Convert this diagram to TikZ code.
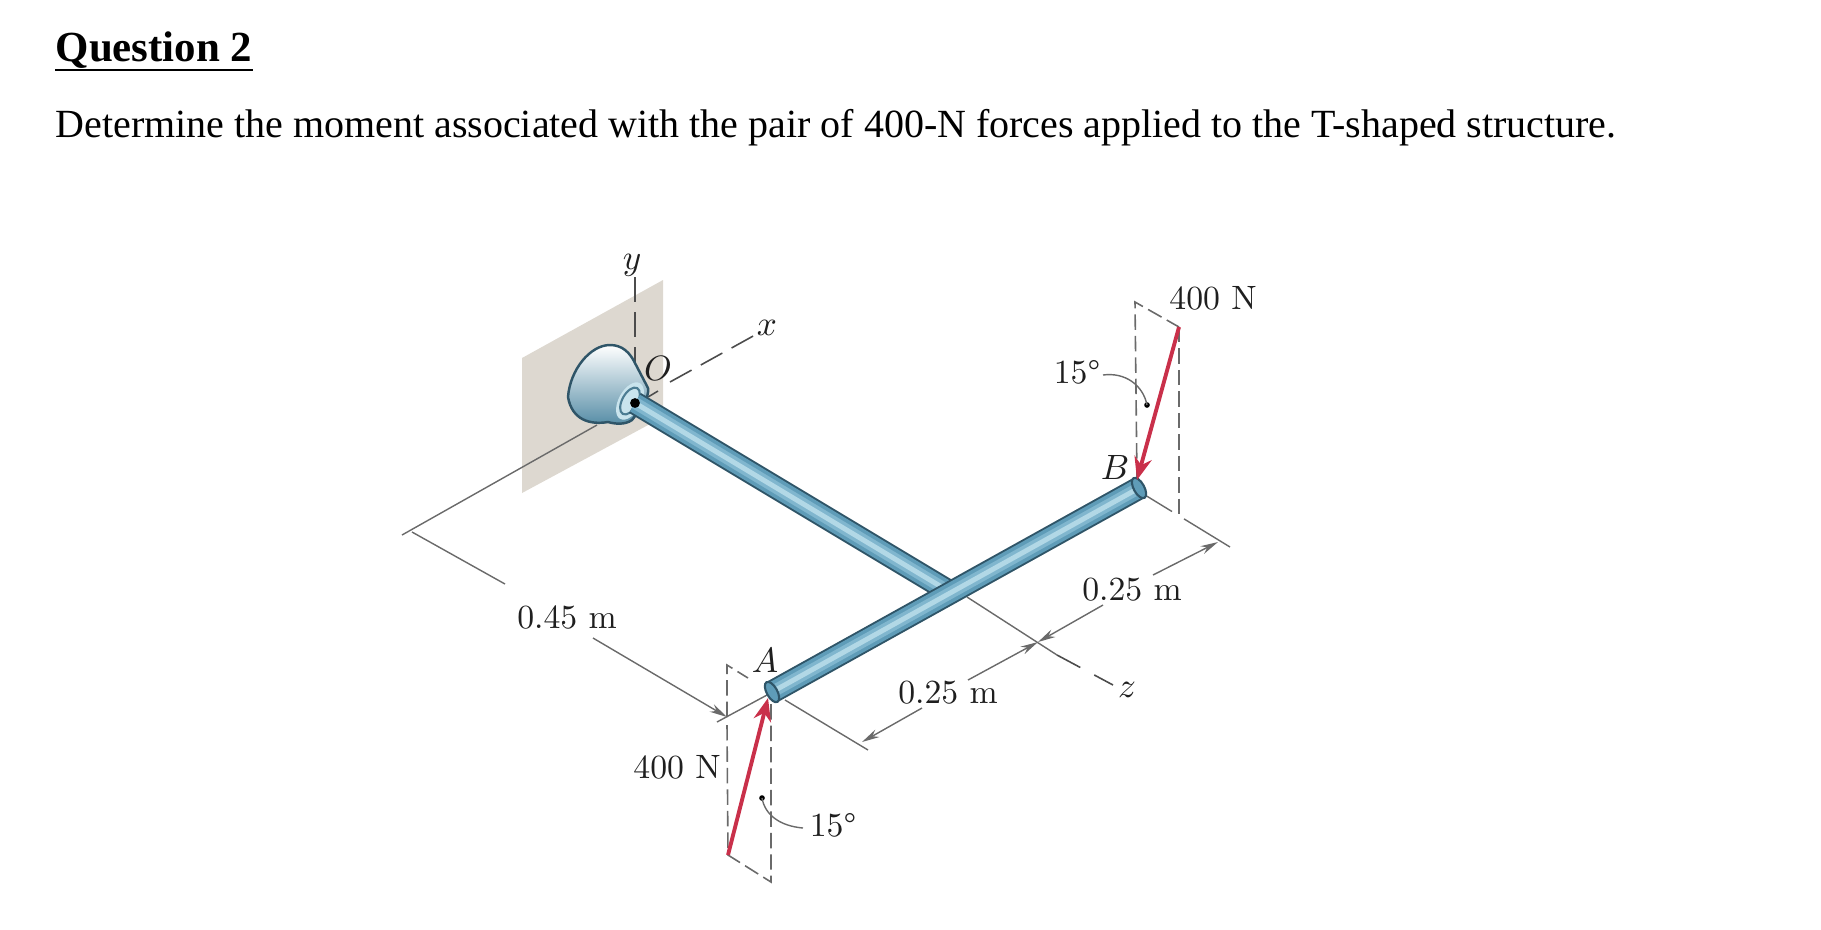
\documentclass[tikz,border=0pt]{standalone}
\usepackage{fontspec}
\setmainfont{Latin Modern Roman}
\newfontfamily\headfont{Liberation Serif}
\usetikzlibrary{arrows.meta}
\definecolor{wallgrey}{HTML}{DDD8D0}
\definecolor{roddark}{HTML}{2F5568}
\definecolor{rodmid}{HTML}{5F9CB8}
\definecolor{rodsoft}{HTML}{80B6CE}
\definecolor{rodlight}{HTML}{B2D8E6}
\definecolor{forcered}{HTML}{C9304A}
\definecolor{dimgrey}{HTML}{6A6A6A}
\tikzset{
	rodedge/.style={line width=6.6pt, roddark},
	rodbody/.style={line width=5.5pt, rodmid},
	rodsheen/.style={line width=3.4pt, rodsoft},
	rodstripe/.style={line width=1.4pt, rodlight},
	rodend/.style={fill=rodmid, draw=roddark, line width=0.6pt},
	dimline/.style={dimgrey, line width=0.4pt},
	dimarrow/.style={dimline, -{Stealth[length=5pt, width=2.4pt]}},
	hidden/.style={dimgrey, line width=0.45pt, dash pattern=on 4.4pt off 1.7pt},
	axisline/.style={black!70, line width=0.45pt, dash pattern=on 7pt off 3pt},
	force/.style={forcered, line width=1.1pt, -{Stealth[length=6.5pt, width=5pt]}},
	lbl/.style={font=\fontsize{9.6}{11}\selectfont, text=black!88, inner sep=0pt},
	axislbl/.style={lbl, font=\fontsize{9.6}{11}\selectfont\itshape}
}
\begin{document}
\begin{tikzpicture}[x=0.01cm, y=-0.01cm]
	\useasboundingbox (0,0) rectangle (1821,929);

	% Heading and question
	\node[anchor=base west, inner sep=0pt, font=\headfont\fontsize{12.2}{14}\selectfont\bfseries] (title) at (55,61) {Question 2};
	\draw[line width=0.75pt] ([yshift=-2.6pt]title.base west) -- ([yshift=-2.6pt]title.base east);
	\node[anchor=base west, inner sep=0pt, font=\headfont\fontsize{11.37}{14}\selectfont] (question) at (55,137) {Determine the moment associated with the pair of 400-N forces applied to the T-shaped structure.};

	% Key points of the structure
	\coordinate (O) at (635,403);
	\coordinate (J) at (950,592);
	\coordinate (A) at (772,692);
	\coordinate (B) at (1139,488);
	\coordinate (Atail) at (728,855);
	\coordinate (Ahead) at (768,698);
	\coordinate (Btail) at (1179,327);
	\coordinate (Bhead) at (1137,480);

	% Wall
	\fill[wallgrey] (522,358) -- (663,280) -- (663,417) -- (522,493) -- cycle;

	% Axes
	\draw[axisline] (635,277) -- (635,363);
	\draw[axisline] (670,382) -- (755,335);
	\draw[axisline] (648,397) -- (658,391);
	\draw[dimline] (967,597) -- (1057,655);
	\draw[axisline, dash pattern=on 7.5pt off 4.5pt] (1057,655) -- (1113,685);

	% 0.45 m dimension
	\coordinate (wallfoot) at (597,425);
	\coordinate (wallend) at (402,535);
	\coordinate (farA) at (717,722);
	\coordinate (nearA) at (767,695);
	\coordinate (dimtop) at (412,532);
	\coordinate (dimgapa) at (505,584);
	\coordinate (dimgapb) at (593,638);
	\coordinate (dimtip) at (727,717);
	\draw[dimline] (wallfoot) -- (wallend);
	\draw[dimline] (farA) -- (nearA);
	\draw[dimline] (dimtop) -- (dimgapa);
	\draw[dimarrow] (dimgapb) -- (dimtip);

	% 0.25 m dimensions
	\coordinate (Aext) at (785,700);
	\coordinate (Aextend) at (868,750);
	\coordinate (Bext) at (1145,495);
	\coordinate (Bextend) at (1230,547);
	\coordinate (zcross) at (1038,642);
	\draw[dimline] (Aext) -- (Aextend);
	\draw[dimline, dash pattern=on 9pt off 4pt on 40pt] (Bext) -- (Bextend);
	\draw[dimarrow] (922,708) -- (862,742);
	\draw[dimarrow] (968,680) -- (zcross);
	\draw[dimarrow] (1153,575) -- (1218,542);
	\draw[dimarrow] (1103,605) -- (zcross);

	% Dashed planes of the forces
	\draw[hidden] (727,717) -- (727,665) -- (748,678);
	\draw[hidden] (727,725) -- (Atail) -- (771,882) -- (771,700);
	\draw[hidden] (Bhead) -- (1135,302) -- (Btail);
	\draw[hidden] (Btail) -- (1179,515);

	% Bracket
	\shade[top color=white, bottom color=rodmid!90!black, draw=roddark, line width=0.7pt]
		(568,397) .. controls (570,370) and (590,345) .. (610,345)
		.. controls (622,345) and (630,352) .. (636,365) -- (648,388)
		.. controls (650,396) and (640,410) .. (632,420)
		.. controls (625,425) and (615,424) .. (608,422)
		.. controls (590,425) and (572,420) .. (568,397) -- cycle;
	\fill[rodlight!70] (630,401) ellipse [x radius=3.2pt, y radius=5.8pt, rotate=-29];
	\draw[rodmid!80!black, line width=0.6pt] (630,401) ellipse [x radius=2.2pt, y radius=4.2pt, rotate=-29];

	% Rod from the wall to the junction
	\draw[rodedge] (O) -- (J);
	\draw[rodbody] (O) -- (J);
	\draw[rodsheen] (O) -- (J);
	\draw[rodstripe] (O) -- (J);
	\fill[black] (O) circle (1.4pt);

	% Cross bar
	\draw[rodedge] (A) -- (B);
	\draw[rodbody] (A) -- (B);
	\draw[rodsheen] (A) -- (B);
	\draw[rodstripe] (A) -- (B);
	\draw[rodend] (A) ellipse [x radius=1.5pt, y radius=3.2pt, rotate=29];
	\draw[rodend] (B) ellipse [x radius=1.5pt, y radius=3.2pt, rotate=29];

	% Forces
	\draw[force] (Atail) -- (Ahead);
	\draw[force] (Btail) -- (Bhead);

	% Angle leaders
	\fill[black] (762,798) circle (0.8pt);
	\fill[black] (1147,405) circle (0.8pt);
	\draw[dimline] (803,828) .. controls (780,826) and (765,815) .. (762,798);
	\draw[dimline] (1103,375) .. controls (1125,372) and (1143,385) .. (1147,405);

	% Labels
	\node[axislbl] (ylabel) at (632,265) {$y$};
	\node[axislbl] (xlabel) at (767,328) {$x$};
	\node[axislbl] (zlabel) at (1127,690) {$z$};
	\node[axislbl] (Olabel) at (658,368) {$O$};
	\node[axislbl] (Alabel) at (765,660) {$A$};
	\node[axislbl] (Blabel) at (1115,467) {$B$};
	\node[lbl] (topforce) at (1213,298) {400 N};
	\node[lbl] (lowforce) at (677,767) {400 N};
	\node[lbl] (topangle) at (1077,372) {15°};
	\node[lbl] (lowangle) at (833,825) {15°};
	\node[lbl] (armlabel) at (567,617) {0.45 m};
	\node[lbl] (leftspan) at (948,693) {0.25 m};
	\node[lbl] (rightspan) at (1132,590) {0.25 m};
\end{tikzpicture}
\end{document}
